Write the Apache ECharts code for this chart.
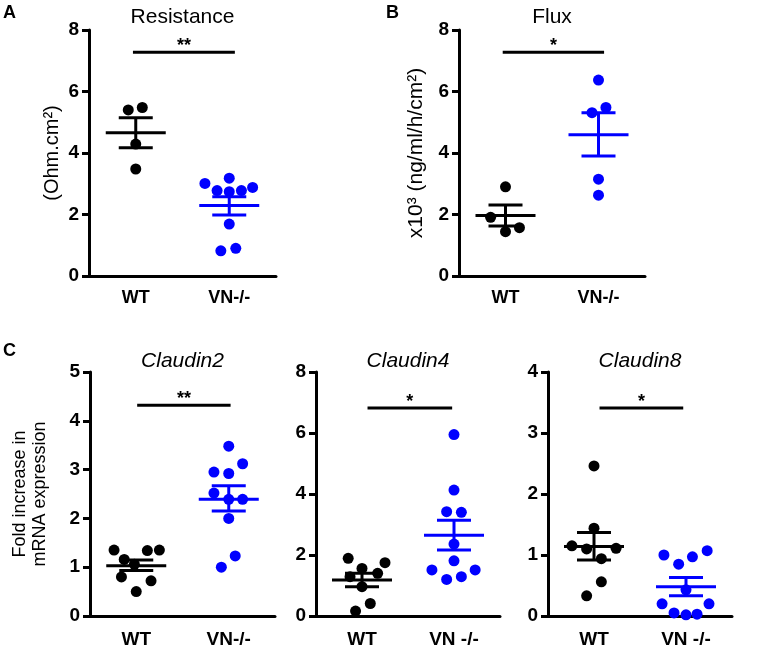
<!DOCTYPE html>
<html lang="en">
<head>
<meta charset="UTF-8">
<title>Resistance, flux and claudin expression</title>
<script src="https://cdn.jsdelivr.net/npm/echarts@6/dist/echarts.min.js"></script>
<style>
    html, body { margin: 0; padding: 0; background: #fff; }
    #main { width: 760px; height: 664px; }
</style>
</head>
<body>
<div id="main"></div>
<script>
    // group names on every x axis
    var groups = ['WT', 'VN-/-'];
    var groupsSpaced = ['WT', 'VN -/-'];

    // A: resistance (Ohm.cm2); x = offset inside the group column
    var resWtY = [5.40, 5.48, 4.29, 3.48];
    var resWtX = [-0.08, 0.07, 0, 0];
    var resVnY = [3.01, 3.18, 2.88, 2.78, 2.74, 2.78, 1.69, 0.82, 0.90];
    var resVnX = [-0.26, 0, 0.25, -0.13, 0, 0.13, 0, -0.09, 0.07];
    var resStats = [[4.66, 4.17, 5.15], [2.29, 1.98, 2.58]]; // mean, lower, upper

    // B: flux x10^3
    var fluxWtY = [2.90, 1.91, 1.44, 1.57];
    var fluxWtX = [0, -0.16, 0, 0.15];
    var fluxVnY = [6.37, 5.31, 5.48, 3.15, 2.63];
    var fluxVnX = [0, -0.07, 0.08, 0, 0];
    var fluxStats = [[1.97, 1.63, 2.31], [4.59, 3.90, 5.31]];

    // C: claudin 2
    var cl2WtY = [1.35, 1.16, 1.34, 1.35, 1.06, 0.80, 0.72, 0.50];
    var cl2WtX = [-0.24, -0.13, 0.12, 0.25, -0.02, -0.16, 0.16, 0];
    var cl2VnY = [3.48, 2.95, 2.92, 3.12, 2.52, 2.39, 2.39, 2.00, 1.23, 1.00];
    var cl2VnX = [0, -0.16, 0, 0.15, -0.16, 0, 0.15, 0, 0.07, -0.08];
    var cl2Stats = [[1.03, 0.93, 1.15], [2.39, 2.15, 2.67]];

    // C: claudin 4
    var cl4WtY = [1.89, 1.75, 1.56, 1.40, 1.29, 0.96, 0.41, 0.16];
    var cl4WtX = [-0.15, 0.25, 0, 0.17, -0.13, 0, 0.09, -0.07];
    var cl4VnY = [5.95, 4.13, 3.42, 3.40, 2.36, 1.81, 1.51, 1.51, 1.20, 1.29];
    var cl4VnX = [0, 0, -0.08, 0.08, 0, 0, -0.24, 0.23, -0.08, 0.08];
    var cl4Stats = [[1.18, 0.96, 1.40], [2.65, 2.16, 3.14]];

    // C: claudin 8
    var cl8WtY = [2.46, 1.44, 1.15, 1.10, 1.11, 0.94, 0.56, 0.33];
    var cl8WtX = [0, 0, -0.24, -0.08, 0.24, 0.08, 0.08, -0.08];
    var cl8VnY = [1.00, 0.85, 0.97, 1.07, 0.43, 0.20, 0.20, 0.05, 0.02, 0.03];
    var cl8VnX = [-0.24, -0.08, 0.07, 0.23, 0, -0.26, 0.25, -0.13, 0, 0.12];
    var cl8Stats = [[1.14, 0.92, 1.37], [0.48, 0.33, 0.63]];

    // significance bars: [from, to, height]
    var resSig = [-0.03, 1.06, 7.28];
    var fluxSig = [-0.03, 1.06, 7.28];
    var cl2Sig = [0.01, 1.02, 4.32];
    var cl4Sig = [0.06, 0.98, 6.82];
    var cl8Sig = [0.06, 0.97, 3.41];

    var black = '#000000';
    var blue = '#0000ff';
    var font = 'Liberation Sans';

    var panels = [
        {title: 'Resistance', italic: false, yName: '(Ohm.cm²)', nameGap: 27, nameSize: 20, max: 8, step: 2,
            wt: [resWtX, resWtY], vn: [resVnX, resVnY], stats: resStats, sig: resSig, stars: '**',
            cats: groups, grid: {left: 89, top: 30, width: 187, height: 246}},
        {title: 'Flux', italic: false, yName: 'x10³ (ng/ml/h/cm²)', nameGap: 33, nameSize: 21, max: 8, step: 2,
            wt: [fluxWtX, fluxWtY], vn: [fluxVnX, fluxVnY], stats: fluxStats, sig: fluxSig, stars: '*',
            cats: groups, grid: {left: 459, top: 30, width: 186, height: 246}},
        {title: 'Claudin2', italic: true, yName: 'Fold increase in\nmRNA expression', nameGap: 40, nameSize: 18, max: 5, step: 1,
            wt: [cl2WtX, cl2WtY], vn: [cl2VnX, cl2VnY], stats: cl2Stats, sig: cl2Sig, stars: '**',
            cats: groups, grid: {left: 90, top: 372, width: 185, height: 244}},
        {title: 'Claudin4', italic: true, yName: '', nameGap: 30, nameSize: 18, max: 8, step: 2,
            wt: [cl4WtX, cl4WtY], vn: [cl4VnX, cl4VnY], stats: cl4Stats, sig: cl4Sig, stars: '*',
            cats: groupsSpaced, grid: {left: 316, top: 372, width: 184, height: 244}},
        {title: 'Claudin8', italic: true, yName: '', nameGap: 30, nameSize: 18, max: 4, step: 1,
            wt: [cl8WtX, cl8WtY], vn: [cl8VnX, cl8VnY], stats: cl8Stats, sig: cl8Sig, stars: '*',
            cats: groupsSpaced, grid: {left: 548, top: 372, width: 184, height: 244}}
    ];

    function toPoints(group, xs, ys) {
        return ys.map(function (y, i) { return [group + xs[i], y]; });
    }

    var option = {
        animation: false,
        backgroundColor: '#fff',
        title: [],
        grid: [],
        xAxis: [],
        yAxis: [],
        series: []
    };

    var letters = [
        {text: 'A', left: 3, top: 4},
        {text: 'B', left: 386, top: 4},
        {text: 'C', left: 3, top: 342}
    ];
    letters.forEach(function (l) {
        option.title.push({
            text: l.text, left: l.left, top: l.top, padding: 0,
            textStyle: {fontFamily: font, fontSize: 18, fontWeight: 'bold', color: black}
        });
    });

    panels.forEach(function (p, i) {
        var g = p.grid;
        var centerTop = i < 2 ? 7 : 351;
        option.title.push({
            text: p.title,
            left: g.left + g.width / 2,
            top: centerTop,
            textAlign: 'center',
            padding: 0,
            textStyle: {
                fontFamily: font, fontSize: 21, color: black,
                fontWeight: 'normal', fontStyle: p.italic ? 'italic' : 'normal'
            }
        });
        option.grid.push({left: g.left, top: g.top, width: g.width, height: g.height, containLabel: false});

        // visible category axis and hidden value axis for the jittered dots
        option.xAxis.push({
            type: 'category', gridIndex: i, data: p.cats, boundaryGap: true,
            axisLine: {onZero: false, lineStyle: {color: black, width: 3}},
            axisTick: {alignWithLabel: true, length: 8, lineStyle: {color: black, width: 3}},
            axisLabel: {color: black, fontFamily: font, fontSize: i < 2 ? 18 : 19, fontWeight: 'bold',
                margin: i < 2 ? 13 : 14},
            splitLine: {show: false}
        });
        option.xAxis.push({type: 'value', gridIndex: i, min: -0.5, max: 1.5, show: false});

        option.yAxis.push({
            type: 'value', gridIndex: i, min: 0, max: p.max, interval: p.step,
            name: p.yName, nameLocation: 'middle', nameGap: p.nameGap,
            nameTextStyle: {color: black, fontFamily: font, fontSize: p.nameSize, lineHeight: 20},
            axisLine: {show: true, onZero: false, lineStyle: {color: black, width: 3}},
            axisTick: {show: true, length: 7, lineStyle: {color: black, width: 3}},
            axisLabel: {color: black, fontFamily: font, fontSize: 19, fontWeight: 'bold', margin: 10},
            splitLine: {show: false}
        });

        var xi = i * 2 + 1;
        option.series.push({
            type: 'scatter', xAxisIndex: xi, yAxisIndex: i, symbolSize: 11,
            itemStyle: {color: black, opacity: 1}, data: toPoints(0, p.wt[0], p.wt[1]), z: 2
        });
        option.series.push({
            type: 'scatter', xAxisIndex: xi, yAxisIndex: i, symbolSize: 11,
            itemStyle: {color: blue, opacity: 1}, data: toPoints(1, p.vn[0], p.vn[1]), z: 2
        });

        // mean and SEM bars
        option.series.push({
            type: 'custom', xAxisIndex: xi, yAxisIndex: i, z: 3,
            data: p.stats.map(function (s, k) { return [k, s[0], s[1], s[2]]; }),
            renderItem: function (params, api) {
                var x = api.value(0);
                var pm = api.coord([x, api.value(1)]);
                var pl = api.coord([x, api.value(2)]);
                var ph = api.coord([x, api.value(3)]);
                var style = {stroke: x === 0 ? black : blue, lineWidth: 3};
                return {
                    type: 'group',
                    children: [
                        {type: 'line', shape: {x1: pm[0] - 30, y1: pm[1], x2: pm[0] + 30, y2: pm[1]}, style: style},
                        {type: 'line', shape: {x1: pl[0] - 17, y1: pl[1], x2: pl[0] + 17, y2: pl[1]}, style: style},
                        {type: 'line', shape: {x1: ph[0] - 17, y1: ph[1], x2: ph[0] + 17, y2: ph[1]}, style: style},
                        {type: 'line', shape: {x1: ph[0], y1: ph[1], x2: pl[0], y2: pl[1]}, style: style}
                    ]
                };
            }
        });

        // significance bar with stars
        var stars = p.stars;
        option.series.push({
            type: 'custom', xAxisIndex: xi, yAxisIndex: i, z: 3,
            data: [p.sig],
            renderItem: function (params, api) {
                var a = api.coord([api.value(0), api.value(2)]);
                var b = api.coord([api.value(1), api.value(2)]);
                return {
                    type: 'group',
                    children: [
                        {type: 'line', shape: {x1: a[0], y1: a[1], x2: b[0], y2: b[1]},
                            style: {stroke: black, lineWidth: 3}},
                        {type: 'text', x: (a[0] + b[0]) / 2, y: a[1] - 6,
                            style: {text: stars, fill: black, textAlign: 'center', textVerticalAlign: 'middle',
                                font: 'bold 18px "Liberation Sans"'}}
                    ]
                };
            }
        });
    });

    var myChart = echarts.init(document.getElementById('main'));
    myChart.setOption(option);
</script>
</body>
</html>
